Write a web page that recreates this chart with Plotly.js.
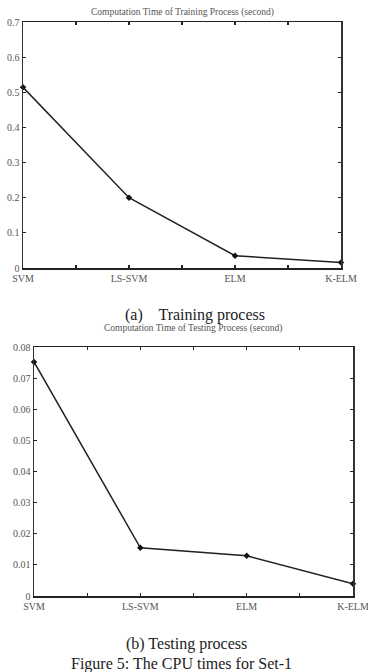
<!DOCTYPE html>
<html>
<head>
<meta charset="utf-8">
<script src="https://cdn.plot.ly/plotly-3.0.1.min.js"></script>
<style>html,body{margin:0;padding:0;background:#fff;}#chart{width:368px;height:672px;}</style>
</head>
<body>
<div id="chart"></div>
<script>
// Data
const categories = ['SVM', 'LS-SVM', 'ELM', 'K-ELM'];
const trainingTime = [0.514, 0.200, 0.035, 0.016];
const testingTime = [0.0752, 0.0155, 0.0129, 0.0039];
const trainingTitle = 'Computation Time of Training Process (second)';
const testingTitle = 'Computation Time of Testing Process (second)';
const captionA = '(a)    Training process';
const captionB = '(b) Testing process';
const figureCaption = 'Figure 5: The CPU times for Set-1';

const xPos = categories.map((c, i) => i + 1);
const tickVals = [];
const tickText = [];
categories.forEach((c, i) => {
  tickVals.push(i + 1); tickText.push(c);
  if (i < categories.length - 1) { tickVals.push(i + 1.5); tickText.push(''); }
});

const serif = 'Liberation Serif, Times New Roman, serif';
const tickFont = {family: serif, size: 10, color: '#555'};

function xAxis(domain, anchor) {
  return {
    domain: domain, anchor: anchor, range: [1, 4], tickmode: 'array',
    tickvals: tickVals, ticktext: tickText, ticks: 'inside', ticklen: 3,
    tickwidth: 1.2, tickcolor: '#222', showline: true, linecolor: '#222', linewidth: 1.5,
    mirror: 'ticks', showgrid: false, zeroline: false, tickfont: tickFont, fixedrange: true,
    ticklabeloverflow: 'allow', automargin: false
  };
}
function yAxis(domain, anchor, range, dtick) {
  return {
    domain: domain, anchor: anchor, range: range, dtick: dtick, tick0: 0, ticks: 'inside', ticklen: 3,
    tickwidth: 1.2, tickcolor: '#222', showline: true, linecolor: '#333', linewidth: 1.5,
    mirror: 'ticks', showgrid: false, zeroline: false, tickfont: tickFont, fixedrange: true,
    ticklabeloverflow: 'allow', automargin: false
  };
}

const traces = [
  {x: xPos, y: trainingTime, xaxis: 'x', yaxis: 'y', type: 'scatter', mode: 'lines+markers',
   line: {color: '#222', width: 1.5}, marker: {symbol: 'diamond', size: 5, color: '#111'}, cliponaxis: false},
  {x: xPos, y: testingTime, xaxis: 'x2', yaxis: 'y2', type: 'scatter', mode: 'lines+markers',
   line: {color: '#222', width: 1.5}, marker: {symbol: 'diamond', size: 5, color: '#111'}, cliponaxis: false}
];

const W = 368, H = 672;
const py = v => 1 - v / H;
const px = v => v / W;

const layout = {
  width: W, height: H, margin: {l: 0, r: 0, t: 0, b: 0},
  paper_bgcolor: '#fff', plot_bgcolor: '#fff', showlegend: false,
  xaxis: xAxis([px(23), px(341)], 'y'),
  yaxis: yAxis([py(268), py(22)], 'x', [0, 0.7], 0.1),
  xaxis2: xAxis([px(34), px(353)], 'y2'),
  yaxis2: yAxis([py(596), py(347)], 'x2', [0, 0.08], 0.01),
  annotations: [
    {text: trainingTitle, xref: 'paper', yref: 'paper', x: px(182), y: py(12), showarrow: false,
     xanchor: 'center', yanchor: 'middle', font: {family: serif, size: 9.5, color: '#555'}},
    {text: testingTitle, xref: 'paper', yref: 'paper', x: px(193), y: py(329), showarrow: false,
     xanchor: 'center', yanchor: 'middle', font: {family: serif, size: 9.5, color: '#555'}},
    {text: captionA, xref: 'paper', yref: 'paper', x: px(195), y: py(315), showarrow: false,
     xanchor: 'center', yanchor: 'middle', font: {family: serif, size: 16, color: '#222'}},
    {text: captionB, xref: 'paper', yref: 'paper', x: px(186), y: py(644), showarrow: false,
     xanchor: 'center', yanchor: 'middle', font: {family: serif, size: 16, color: '#222'}},
    {text: figureCaption, xref: 'paper', yref: 'paper', x: px(181), y: py(664), showarrow: false,
     xanchor: 'center', yanchor: 'middle', font: {family: serif, size: 16, color: '#222'}}
  ]
};

Plotly.newPlot('chart', traces, layout, {staticPlot: true, displayModeBar: false});
</script>
</body>
</html>
